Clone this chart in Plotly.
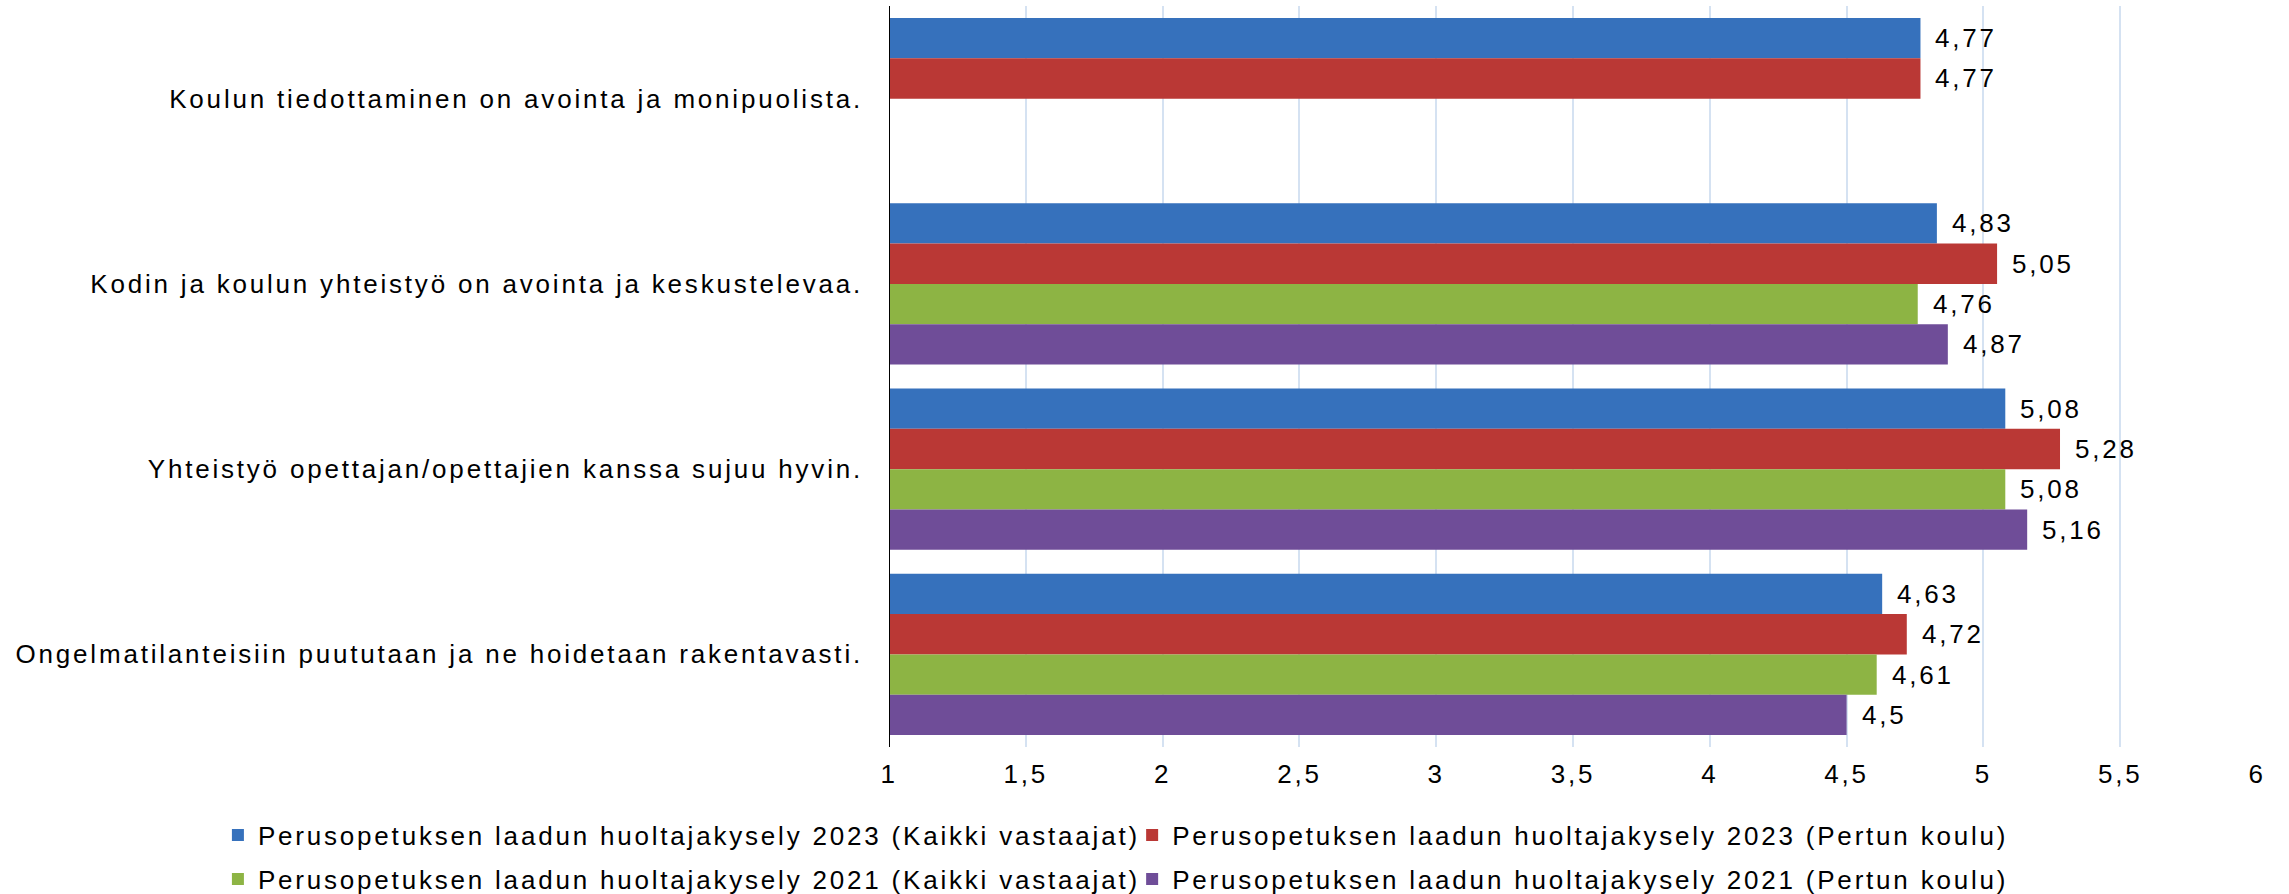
import plotly.graph_objects as go

categories = [
    "Koulun tiedottaminen on avointa ja monipuolista.",
    "Kodin ja koulun yhteistyö on avointa ja keskustelevaa.",
    "Yhteistyö opettajan/opettajien kanssa sujuu hyvin.",
    "Ongelmatilanteisiin puututaan ja ne hoidetaan rakentavasti.",
]
series_names = [
    "Perusopetuksen laadun huoltajakysely 2023 (Kaikki vastaajat)",
    "Perusopetuksen laadun huoltajakysely 2023 (Pertun koulu)",
    "Perusopetuksen laadun huoltajakysely 2021 (Kaikki vastaajat)",
    "Perusopetuksen laadun huoltajakysely 2021 (Pertun koulu)",
]
s2023_all = [4.77, 4.83, 5.08, 4.63]
s2023_pertti = [4.77, 5.05, 5.28, 4.72]
s2021_all = [None, 4.76, 5.08, 4.61]
s2021_pertti = [None, 4.87, 5.16, 4.5]
tick_vals = [1, 1.5, 2, 2.5, 3, 3.5, 4, 4.5, 5, 5.5, 6]
tick_text = ["1", "1,5", "2", "2,5", "3", "3,5", "4", "4,5", "5", "5,5", "6"]

colors = ["#3671BC", "#BA3835", "#8DB444", "#6F4D98"]
series = [s2023_all, s2023_pertti, s2021_all, s2021_pertti]

FONT = "Liberation Sans, Arial, sans-serif"
FS = 26
LS = 2.8


def sp(t):
    return f'<span style="letter-spacing:{LS}px">{t}</span>'


def fmt(v):
    return f"{v:g}".replace(".", ",")


legend_ids = ["legend", "legend2", "legend3", "legend4"]
legend_pos = [(0.0952, 0.066), (0.4946, 0.066), (0.0952, 0.0168), (0.4946, 0.0168)]

fig = go.Figure()
for j, (name, vals, c) in enumerate(zip(series_names, series, colors)):
    fig.add_trace(go.Bar(
        y=categories, x=vals, orientation="h", name=sp(name),
        marker=dict(color=c, line=dict(width=0)),
        legend=legend_ids[j],
    ))

bargap = 0.13
nser = len(series)
bw = (1 - bargap) / nser
annotations = []
for j, vals in enumerate(series):
    off = -(1 - bargap) / 2 + (j + 0.5) * bw
    for i, v in enumerate(vals):
        if v is None:
            continue
        annotations.append(dict(
            x=v, y=i + off, xref="x", yref="y", text=sp(fmt(v)),
            showarrow=False, xanchor="left", yanchor="middle", xshift=13,
            font=dict(family=FONT, size=FS, color="#000000"),
        ))

layout_legends = {}
for lid, (lx, ly) in zip(legend_ids, legend_pos):
    layout_legends[lid] = dict(
        orientation="h", xref="container", yref="container",
        x=lx, y=ly, xanchor="left", yanchor="middle",
        font=dict(family=FONT, size=FS, color="#000000"),
        itemwidth=30, bgcolor="rgba(0,0,0,0)",
    )

fig.update_layout(
    width=2289, height=894,
    margin=dict(l=889, r=32, t=6, b=147, autoexpand=False),
    paper_bgcolor="white", plot_bgcolor="white",
    barmode="group", bargap=bargap, bargroupgap=0,
    font=dict(family=FONT, size=FS, color="#000000"),
    annotations=annotations,
    xaxis=dict(
        range=[1, 6], tickvals=tick_vals, ticktext=[sp(t) for t in tick_text],
        showgrid=True, gridcolor="#D5E2F2", gridwidth=2,
        zeroline=False, showline=False, ticks="", ticklabelstandoff=9,
        tickfont=dict(family=FONT, size=FS, color="#000000"),
        automargin=False,
    ),
    yaxis=dict(
        categoryorder="array", categoryarray=categories,
        tickvals=categories, ticktext=[sp(c) for c in categories],
        autorange="reversed", showgrid=False, zeroline=False,
        showline=False, ticks="", ticklabelstandoff=25,
        tickfont=dict(family=FONT, size=FS, color="#000000"),
        automargin=False,
    ),
    shapes=[dict(type="line", xref="x", yref="paper", x0=1, x1=1, y0=0, y1=1,
                 line=dict(color="#000000", width=2))],
    showlegend=True,
    **layout_legends,
)

fig.write_html("out.html", config={"displayModeBar": False},
               post_script="document.body.style.margin='0';")
